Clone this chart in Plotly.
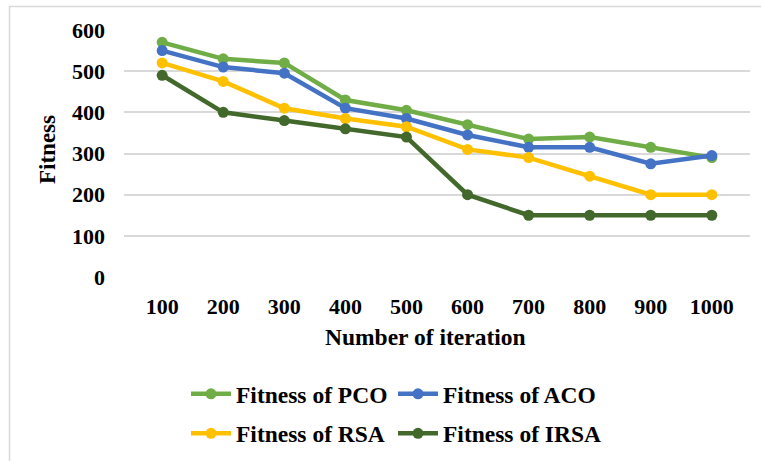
import plotly.graph_objects as go

# Iteration counts on the category axis
iterations = ["100", "200", "300", "400", "500", "600", "700", "800", "900", "1000"]

# Fitness values per algorithm
fitness_pco = [570, 530, 520, 430, 405, 370, 335, 340, 315, 290]
fitness_aco = [550, 510, 495, 410, 385, 345, 315, 315, 275, 295]
fitness_rsa = [520, 475, 410, 385, 365, 310, 290, 245, 200, 200]
fitness_irsa = [490, 400, 380, 360, 340, 200, 150, 150, 150, 150]

y_ticks = [0, 100, 200, 300, 400, 500, 600]

# (name, values, colour, legend column)
series = [
    ("Fitness of PCO", fitness_pco, "#70AD47", "legend"),
    ("Fitness of ACO", fitness_aco, "#4472C4", "legend2"),
    ("Fitness of RSA", fitness_rsa, "#FFC000", "legend"),
    ("Fitness of IRSA", fitness_irsa, "#43682B", "legend2"),
]

FONT = "Liberation Serif"
W, H = 761, 461
L, R, T, B = 124, 11, 30, 184

fig = go.Figure()
for name, vals, color, leg in series:
    fig.add_trace(go.Scatter(
        x=iterations, y=vals, name=name, mode="lines+markers",
        line=dict(color=color, width=4.5),
        marker=dict(color=color, size=11),
        legend=leg, legendgroup=name,
    ))

plot_w = W - L - R
plot_h = H - T - B

def px_x(p):
    return (p - L) / plot_w

def px_y(p):
    return (H - B - p) / plot_h

# Light outer chart border
fig.add_shape(type="rect", xref="paper", yref="paper",
              x0=px_x(9.5), x1=px_x(775), y0=px_y(475), y1=px_y(6.5),
              line=dict(color="#D9D9D9", width=1.5), layer="below")

fig.add_annotation(text="<b>Number of iteration</b>", xref="paper", yref="paper",
                   x=px_x(425.5), y=px_y(337), showarrow=False,
                   font=dict(family=FONT, size=23.5, color="#000"),
                   xanchor="center", yanchor="middle")
fig.add_annotation(text="<b>Fitness</b>", xref="paper", yref="paper",
                   x=px_x(47), y=px_y(150), showarrow=False, textangle=-90,
                   font=dict(family=FONT, size=23, color="#000"),
                   xanchor="center", yanchor="middle")

legend_style = dict(
    orientation="v", xanchor="left", yanchor="top",
    xref="paper", yref="paper",
    font=dict(family=FONT, size=23.5, color="#000", weight="bold"),
    itemwidth=40, tracegroupgap=6, bgcolor="rgba(0,0,0,0)",
)

fig.update_layout(
    width=W, height=H,
    margin=dict(l=L, r=R, t=T, b=B, autoexpand=False),
    paper_bgcolor="white", plot_bgcolor="white",
    font=dict(family=FONT, size=22, color="#000"),
    showlegend=True,
    legend=dict(x=px_x(186), y=px_y(372), **legend_style),
    legend2=dict(x=px_x(393), y=px_y(372), **legend_style),
    xaxis=dict(
        type="category", showgrid=False, showline=False, zeroline=False,
        ticks="", ticklabelstandoff=14,
        tickfont=dict(family=FONT, size=22, weight="bold"),
    ),
    yaxis=dict(
        range=[0, 600], tickvals=y_ticks, showgrid=True, gridcolor="#D9D9D9",
        gridwidth=1.5, zeroline=False, showline=False, ticks="",
        ticklabelstandoff=18,
        tickfont=dict(family=FONT, size=22, weight="bold"),
    ),
)

fig.write_html("out.html")
